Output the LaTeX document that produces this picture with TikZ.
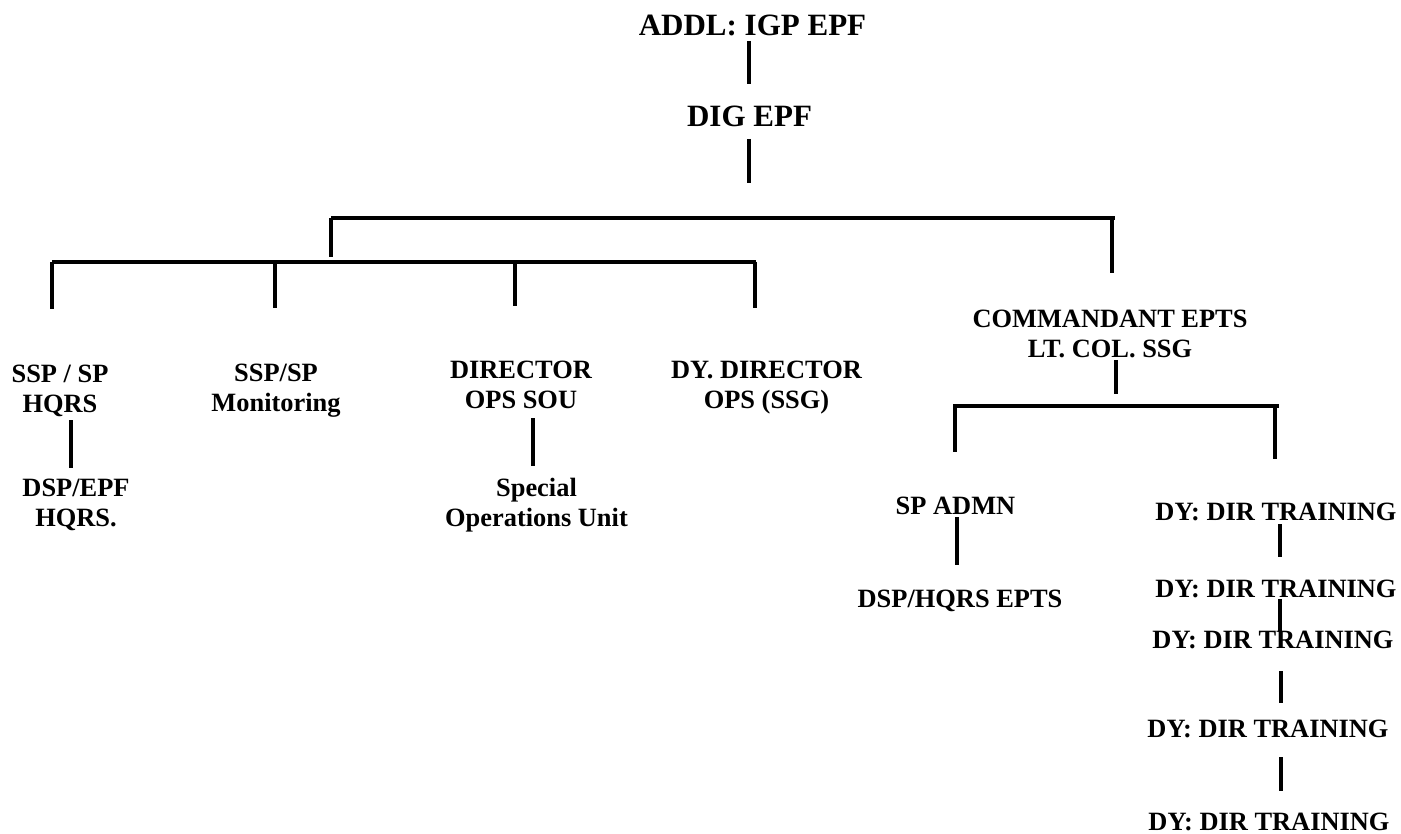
\documentclass[tikz,border=0pt]{standalone}
\usepackage{fontspec}
\setmainfont{Liberation Serif}
\begin{document}
\begin{tikzpicture}[x=1pt,y=-1pt,
  lbl/.style={inner sep=0pt, anchor=base, align=center, font=\fontsize{26.4}{30}\selectfont\bfseries},
  biglbl/.style={inner sep=0pt, anchor=base, align=center, font=\fontsize{31}{36}\selectfont\bfseries},
  conn/.style={line width=3.4pt, black}]
\useasboundingbox (0,0) rectangle (1401,834);
% nodes (base anchor = baseline of the last line)
\node[biglbl] (addl) at (752.5,36) {ADDL: IGP EPF};
\node[biglbl] (dig) at (749.5,127) {DIG EPF};
\node[lbl] (ssp) at (60,413) {SSP / SP\\HQRS};
\node[lbl] (dspepf) at (76,526) {DSP/EPF\\HQRS.};
\node[lbl] (mon) at (276,411) {SSP/SP\\Monitoring};
\node[lbl] (dir) at (521,408) {DIRECTOR\\OPS SOU};
\node[lbl] (sou) at (536.5,526) {Special\\Operations Unit};
\node[lbl] (dyd) at (766.5,408) {DY. DIRECTOR\\OPS (SSG)};
\node[lbl] (com) at (1110,358) {COMMANDANT EPTS\\LT. COL. SSG};
\node[lbl] (spadmn) at (955.5,514) {SP ADMN};
\node[lbl] (dsph) at (960,607) {DSP/HQRS EPTS};
\node[lbl] (dy1) at (1276,520) {DY: DIR TRAINING};
\node[lbl] (dy2) at (1276,597) {DY: DIR TRAINING};
\node[lbl] (dy3) at (1273,648) {DY: DIR TRAINING};
\node[lbl] (dy4) at (1268,737) {DY: DIR TRAINING};
\node[lbl] (dy5) at (1269,830) {DY: DIR TRAINING};
% coordinates
\coordinate (a1) at (749,41);   \coordinate (a2) at (749,84);
\coordinate (b1) at (749,139);  \coordinate (b2) at (749,183);
\coordinate (tl) at (331,218);  \coordinate (tr) at (1115,218);
\coordinate (tld) at (331,257);
\coordinate (trt) at (1112,218); \coordinate (trd) at (1112,273);
\coordinate (sl) at (52,262);   \coordinate (sr) at (756,262);
\coordinate (s1d) at (52,309);
\coordinate (s2t) at (275,262); \coordinate (s2d) at (275,308);
\coordinate (s3t) at (515,262); \coordinate (s3d) at (515,306);
\coordinate (s4t) at (755,262); \coordinate (s4d) at (755,308);
\coordinate (h1) at (71,420);   \coordinate (h2) at (71,468);
\coordinate (o1) at (533,418);  \coordinate (o2) at (533,466);
\coordinate (c1) at (1116,360); \coordinate (c2) at (1116,394);
\coordinate (ul) at (953,406);  \coordinate (ur) at (1279,406);
\coordinate (u1t) at (955,406); \coordinate (u1d) at (955,452);
\coordinate (u2t) at (1275,406); \coordinate (u2d) at (1275,459);
\coordinate (p1) at (957,517);  \coordinate (p2) at (957,565);
\coordinate (d1) at (1280,524); \coordinate (d2) at (1280,557);
\coordinate (d3) at (1280,599); \coordinate (d4) at (1280,632);
\coordinate (d5) at (1281,671); \coordinate (d6) at (1281,703);
\coordinate (d7) at (1281,757); \coordinate (d8) at (1281,791);
% connectors
\draw[conn] (a1) -- (a2);
\draw[conn] (b1) -- (b2);
\draw[conn] (tl) -- (tr);
\draw[conn] (tl) -- (tld);
\draw[conn] (trt) -- (trd);
\draw[conn] (sl) -- (sr);
\draw[conn] (sl) -- (s1d);
\draw[conn] (s2t) -- (s2d);
\draw[conn] (s3t) -- (s3d);
\draw[conn] (s4t) -- (s4d);
\draw[conn] (h1) -- (h2);
\draw[conn] (o1) -- (o2);
\draw[conn] (c1) -- (c2);
\draw[conn] (ul) -- (ur);
\draw[conn] (u1t) -- (u1d);
\draw[conn] (u2t) -- (u2d);
\draw[conn] (p1) -- (p2);
\draw[conn] (d1) -- (d2);
\draw[conn] (d3) -- (d4);
\draw[conn] (d5) -- (d6);
\draw[conn] (d7) -- (d8);
\end{tikzpicture}
\end{document}
